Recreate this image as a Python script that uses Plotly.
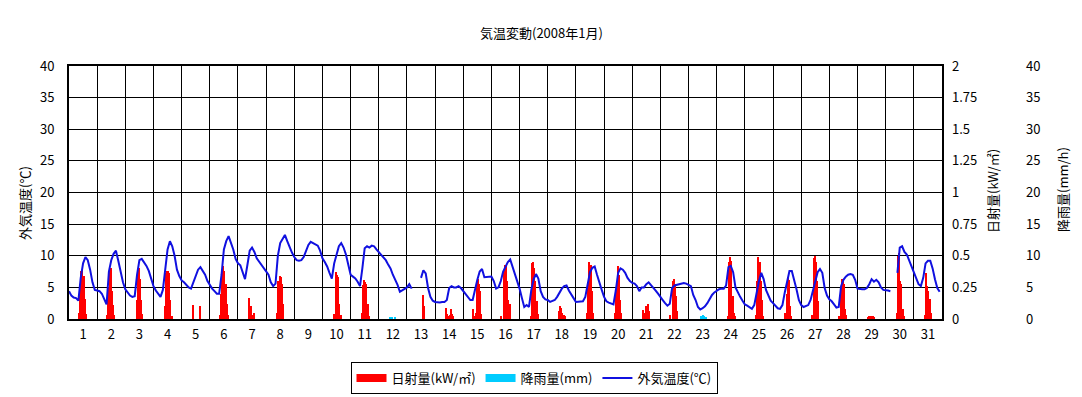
import plotly.graph_objects as go

# ---- data -------------------------------------------------------------
days = list(range(1, 32))
temp_hours = list(range(0, 24, 2))          # temperature sampled every 2 hours
# outdoor temperature (deg C), one row per day, values at hours 0,2,...,22
temp_c = [
    [4.4, 3.7, 3.4, 3.3, 2.9, 6.5, 8.8, 9.8, 9.3, 7.8, 5.8, 4.6],
    [4.5, 4.4, 4.0, 3.0, 2.3, 7.5, 9.3, 10.3, 10.8, 9.2, 7.4, 5.8],
    [4.7, 4.1, 3.7, 3.5, 3.6, 7.0, 9.3, 9.5, 9.0, 8.4, 7.6, 6.3],
    [5.2, 4.5, 4.0, 3.5, 4.6, 7.8, 11.0, 12.3, 11.5, 10.0, 7.8, 6.8],
    [6.1, 5.8, 5.4, 5.0, 4.8, 5.8, 7.0, 7.8, 8.2, 7.6, 7.0, 6.0],
    [5.3, 4.8, 4.4, 4.0, 4.0, 7.0, 11.0, 12.3, 13.1, 12.0, 11.0, 9.5],
    [8.8, 8.5, 7.2, 6.3, 8.5, 10.8, 11.3, 10.6, 9.6, 9.1, 8.6, 8.0],
    [7.5, 7.0, 5.8, 5.2, 5.6, 10.0, 12.0, 12.7, 13.3, 12.3, 11.3, 10.5],
    [9.8, 9.3, 9.2, 9.3, 9.8, 10.8, 11.7, 12.2, 12.0, 11.7, 11.6, 10.8],
    [9.6, 9.0, 8.3, 7.3, 6.4, 8.8, 10.4, 11.5, 12.0, 11.3, 10.2, 8.6],
    [7.0, 6.7, 6.4, 5.9, 5.2, 8.0, 11.2, 11.5, 11.3, 11.6, 11.5, 11.0],
    [10.6, 10.2, 9.8, 9.3, 8.6, 8.0, 7.0, 6.3, 5.4, 4.3, 4.5, 4.7],
    [5.0, 5.5, 4.8, None, None, None, 6.5, 7.7, 7.2, 4.9, 3.5, 2.9],
    [2.7, 2.6, 2.6, 2.7, 2.7, 3.0, 4.9, 5.2, 5.0, 5.0, 5.2, 4.9],
    [4.4, 3.9, 3.4, 3.0, 3.0, 4.8, 6.2, 7.5, 7.9, 6.6, 6.6, 6.6],
    [6.7, 6.0, 4.8, 5.0, 6.0, 7.5, 8.3, 9.0, 9.4, 8.3, 7.0, 5.8],
    [4.8, 3.3, 1.9, 2.2, 1.9, 4.6, 6.3, 7.1, 6.4, 4.4, 3.5, 3.1],
    [3.0, 2.7, 2.8, 3.0, 3.5, 4.2, 4.8, 5.2, 5.3, 4.5, 3.8, 3.3],
    [2.7, 2.7, 2.7, 2.8, 3.5, 5.5, 7.4, 8.1, 8.3, 7.0, 5.6, 4.6],
    [3.5, 2.8, 2.6, 2.4, 2.3, 4.5, 7.3, 8.0, 7.8, 7.3, 6.5, 6.0],
    [5.7, 5.6, 5.2, 4.4, 5.0, 5.0, 5.5, 5.8, 5.4, 4.9, 4.5, 4.0],
    [3.4, 3.0, 2.5, 2.1, 2.4, 4.9, 5.3, 5.4, 5.6, 5.7, 5.7, 5.6],
    [5.4, 5.2, 3.8, 3.0, 1.9, 1.5, 1.7, 2.0, 2.5, 3.2, 3.8, 4.2],
    [4.5, 4.7, 4.8, 4.8, 5.3, 8.2, 8.4, 7.4, 5.0, 4.2, 3.5, 2.9],
    [2.3, 2.1, 1.9, 1.6, 2.2, 4.3, 6.0, 7.3, 6.3, 4.6, 3.6, 2.9],
    [2.5, 2.1, 1.7, 1.6, 2.2, 4.2, 6.0, 7.6, 7.6, 6.3, 4.7, 3.0],
    [2.2, 1.9, 2.0, 2.2, 3.0, 4.5, 6.3, 7.4, 7.9, 7.3, 4.9, 3.7],
    [3.1, 2.8, 2.3, 1.8, 1.9, 5.2, 6.2, 6.7, 7.0, 7.1, 7.0, 6.2],
    [4.8, 4.7, 4.7, 4.7, 4.9, 5.5, 6.3, 5.9, 6.2, 5.8, 5.0, 4.6],
    [4.6, 4.5, 4.4, None, None, 7.3, 11.3, 11.5, 10.6, 10.2, 9.3, 8.3],
    [7.3, 6.3, 5.5, 5.2, 6.5, 8.8, 9.2, 9.2, 8.0, 6.3, 4.9, 4.3],
]

solar_hours = list(range(7, 17))            # hourly solar radiation 7h..16h
# solar radiation (kW/m2), one row per day, hours 7..16
solar_kw = [
    [0, 0.05, 0.27, 0.38, 0.41, 0.34, 0.16, 0.04, 0, 0],
    [0, 0.03, 0.25, 0.38, 0.40, 0.22, 0.11, 0.03, 0, 0],
    [0, 0, 0.15, 0.35, 0.40, 0.32, 0.15, 0.04, 0, 0],
    [0, 0, 0.10, 0.36, 0.38, 0.38, 0.36, 0.15, 0.02, 0],
    [0, 0, 0.11, 0, 0, 0, 0, 0, 0.10, 0],
    [0, 0.03, 0.20, 0.35, 0.42, 0.38, 0.28, 0.12, 0.03, 0],
    [0, 0, 0.17, 0.02, 0.10, 0.03, 0.05, 0, 0, 0],
    [0, 0, 0.05, 0.30, 0.34, 0.33, 0.28, 0.12, 0, 0],
    [0, 0, 0, 0, 0, 0, 0, 0, 0, 0],
    [0, 0, 0.04, 0.02, 0.37, 0.35, 0.33, 0.12, 0.03, 0],
    [0, 0, 0.05, 0.27, 0.31, 0.29, 0.28, 0.12, 0.02, 0],
    [0, 0, 0, 0, 0, 0, 0, 0, 0, 0],
    [0, 0, 0, 0, 0, 0, 0.19, 0.10, 0, 0],
    [0, 0, 0.09, 0.04, 0.02, 0.03, 0.08, 0.04, 0.02, 0],
    [0, 0.08, 0.02, 0.05, 0.27, 0.32, 0.28, 0.22, 0.04, 0],
    [0, 0.02, 0, 0.38, 0.43, 0.42, 0.30, 0.15, 0.12, 0],
    [0, 0, 0.02, 0.44, 0.45, 0.40, 0.30, 0.14, 0.04, 0],
    [0, 0, 0.06, 0.10, 0.09, 0.05, 0.03, 0.02, 0, 0],
    [0, 0, 0.05, 0.27, 0.45, 0.43, 0.22, 0.05, 0, 0],
    [0, 0, 0.05, 0.24, 0.42, 0.35, 0.15, 0.05, 0, 0],
    [0, 0, 0.07, 0.05, 0.10, 0.09, 0.12, 0.06, 0, 0],
    [0, 0.03, 0, 0.30, 0.32, 0.28, 0.18, 0.06, 0, 0],
    [0, 0, 0, 0, 0.02, 0.03, 0, 0, 0, 0],
    [0, 0, 0.02, 0.45, 0.49, 0.46, 0.18, 0.05, 0.02, 0],
    [0, 0, 0.03, 0.30, 0.49, 0.45, 0.30, 0.15, 0.02, 0],
    [0, 0, 0, 0.05, 0.20, 0.33, 0.31, 0.10, 0.02, 0],
    [0, 0, 0.03, 0.48, 0.50, 0.45, 0.30, 0.14, 0, 0],
    [0, 0.02, 0.25, 0.32, 0.30, 0.28, 0.08, 0.03, 0, 0],
    [0, 0.01, 0.02, 0.02, 0.025, 0.02, 0.02, 0.01, 0, 0],
    [0, 0, 0.05, 0.50, 0.52, 0.30, 0.28, 0.08, 0.02, 0],
    [0, 0, 0.03, 0.36, 0.26, 0.22, 0.16, 0.05, 0, 0],
]

# rainfall (mm/h): day, hour, amount
rain_day = [12, 12, 12, 23, 23, 23, 23, 23]
rain_hour = [9, 11, 13, 10, 11, 12, 13, 14]
rain_mm = [0.3, 0.2, 0.3, 0.5, 0.3, 0.6, 0.4, 0.2]

day_labels = [str(d) for d in days]

# ---- derived series -----------------------------------------------------
temp_x, temp_y = [], []
for d, row in zip(days, temp_c):
    for h, v in zip(temp_hours, row):
        temp_x.append((d - 1) * 24 + h)
        temp_y.append(v)

solar_x, solar_y = [], []
for d, row in zip(days, solar_kw):
    for h, v in zip(solar_hours, row):
        solar_x.append((d - 1) * 24 + h + 0.5)
        solar_y.append(v)

rain_x = [(d - 1) * 24 + h + 0.5 for d, h in zip(rain_day, rain_hour)]

# ---- figure ------------------------------------------------------------
FONT = "Noto Sans CJK JP"
W, H = 1082, 397
L, R, T, B = 69, 10, 66, 78
pw = W - L - R
ph = H - T - B
px = lambda x: (x - L) / pw
py = lambda y: (H - B - y) / ph

RED, CYAN, BLUE = "#FF0000", "#00CCFF", "#1010E0"

fig = go.Figure()
fig.add_trace(go.Scatter(x=[None], y=[None], yaxis="y", showlegend=False, hoverinfo="skip"))
fig.add_trace(go.Bar(x=solar_x, y=solar_y, yaxis="y2", name="日射量(kW/㎡)", showlegend=False,
                     marker=dict(color=RED, line=dict(width=0)), width=0.8))
fig.add_trace(go.Bar(x=rain_x, y=rain_mm, yaxis="y3", name="降雨量(mm)", showlegend=False,
                     marker=dict(color=CYAN, line=dict(width=0)), width=0.8))
fig.add_trace(go.Scatter(x=temp_x, y=temp_y, yaxis="y4", name="外気温度(℃)", mode="lines",
                         line=dict(color=BLUE, width=2), connectgaps=False, showlegend=False))
# legend entries (wide swatches like the original)
fig.add_trace(go.Scatter(x=[None], y=[None], yaxis="y4", mode="lines", name="日射量(kW/㎡)",
                         line=dict(color=RED, width=8)))
fig.add_trace(go.Scatter(x=[None], y=[None], yaxis="y4", mode="lines", name="降雨量(mm)",
                         line=dict(color=CYAN, width=8)))
fig.add_trace(go.Scatter(x=[None], y=[None], yaxis="y4", mode="lines", name="外気温度(℃)",
                         line=dict(color=BLUE, width=2)))

xdom_end = px(942)
fig.update_layout(
    width=W, height=H, autosize=False,
    margin=dict(l=L, r=R, t=T, b=B, autoexpand=False),
    paper_bgcolor="white", plot_bgcolor="white",
    font=dict(family=FONT, size=13, color="black"),
    barmode="overlay", bargap=0,
    xaxis=dict(domain=[0, xdom_end], range=[0, 744],
               tickmode="array", tickvals=[(d - 0.5) * 24 for d in days], ticktext=day_labels,
               ticks="", showgrid=False, zeroline=False,
               showline=True, linecolor="black", linewidth=2, mirror=True,
               minor=dict(tickmode="linear", tick0=0, dtick=24, showgrid=True,
                          gridcolor="black", gridwidth=1, ticks=""),
               tickfont=dict(size=13), ticklabelstandoff=2),
    yaxis=dict(range=[0, 40], dtick=5, showgrid=True, gridcolor="black", gridwidth=1,
               zeroline=False, showline=True, linecolor="black", linewidth=2, mirror=True,
               ticks="", ticklabelstandoff=10, tickfont=dict(size=13)),
    yaxis2=dict(overlaying="y", side="right", anchor="x", range=[0, 2],
                tickvals=[0, 0.25, 0.5, 0.75, 1, 1.25, 1.5, 1.75, 2],
                ticktext=["0", "0.25", "0.5", "0.75", "1", "1.25", "1.5", "1.75", "2"],
                showgrid=False, zeroline=False, showline=False, ticks="",
                ticklabelstandoff=9, tickfont=dict(size=13)),
    yaxis3=dict(overlaying="y", side="right", anchor="free", position=px(1022), range=[0, 40],
                dtick=5, showgrid=False, zeroline=False, showline=False, ticks="",
                ticklabelstandoff=3, tickfont=dict(size=13)),
    yaxis4=dict(overlaying="y", range=[0, 40], visible=False),
    legend=dict(orientation="h", xref="container", yref="container",
                x=534 / W, xanchor="center", y=1 - 362 / H, yanchor="top",
                bordercolor="black", borderwidth=1, font=dict(size=13),
                traceorder="normal", bgcolor="white"),
    showlegend=True,
)

ann = [
    dict(text="気温変動(2008年1月)", x=px(541), y=py(32), font=dict(size=13)),
    dict(text="外気温度(℃)", x=px(24), y=py(203), textangle=-90, font=dict(size=13)),
    dict(text="日射量(kW/㎡)", x=px(992), y=py(191), textangle=-90, font=dict(size=13)),
    dict(text="降雨量(mm/h)", x=px(1062), y=py(190), textangle=-90, font=dict(size=13)),
]
for a in ann:
    fig.add_annotation(xref="paper", yref="paper", showarrow=False,
                       xanchor="center", yanchor="middle", **a)

fig.write_html("out.html", config={"displayModeBar": False},
               post_script="document.body.style.margin='0';")
